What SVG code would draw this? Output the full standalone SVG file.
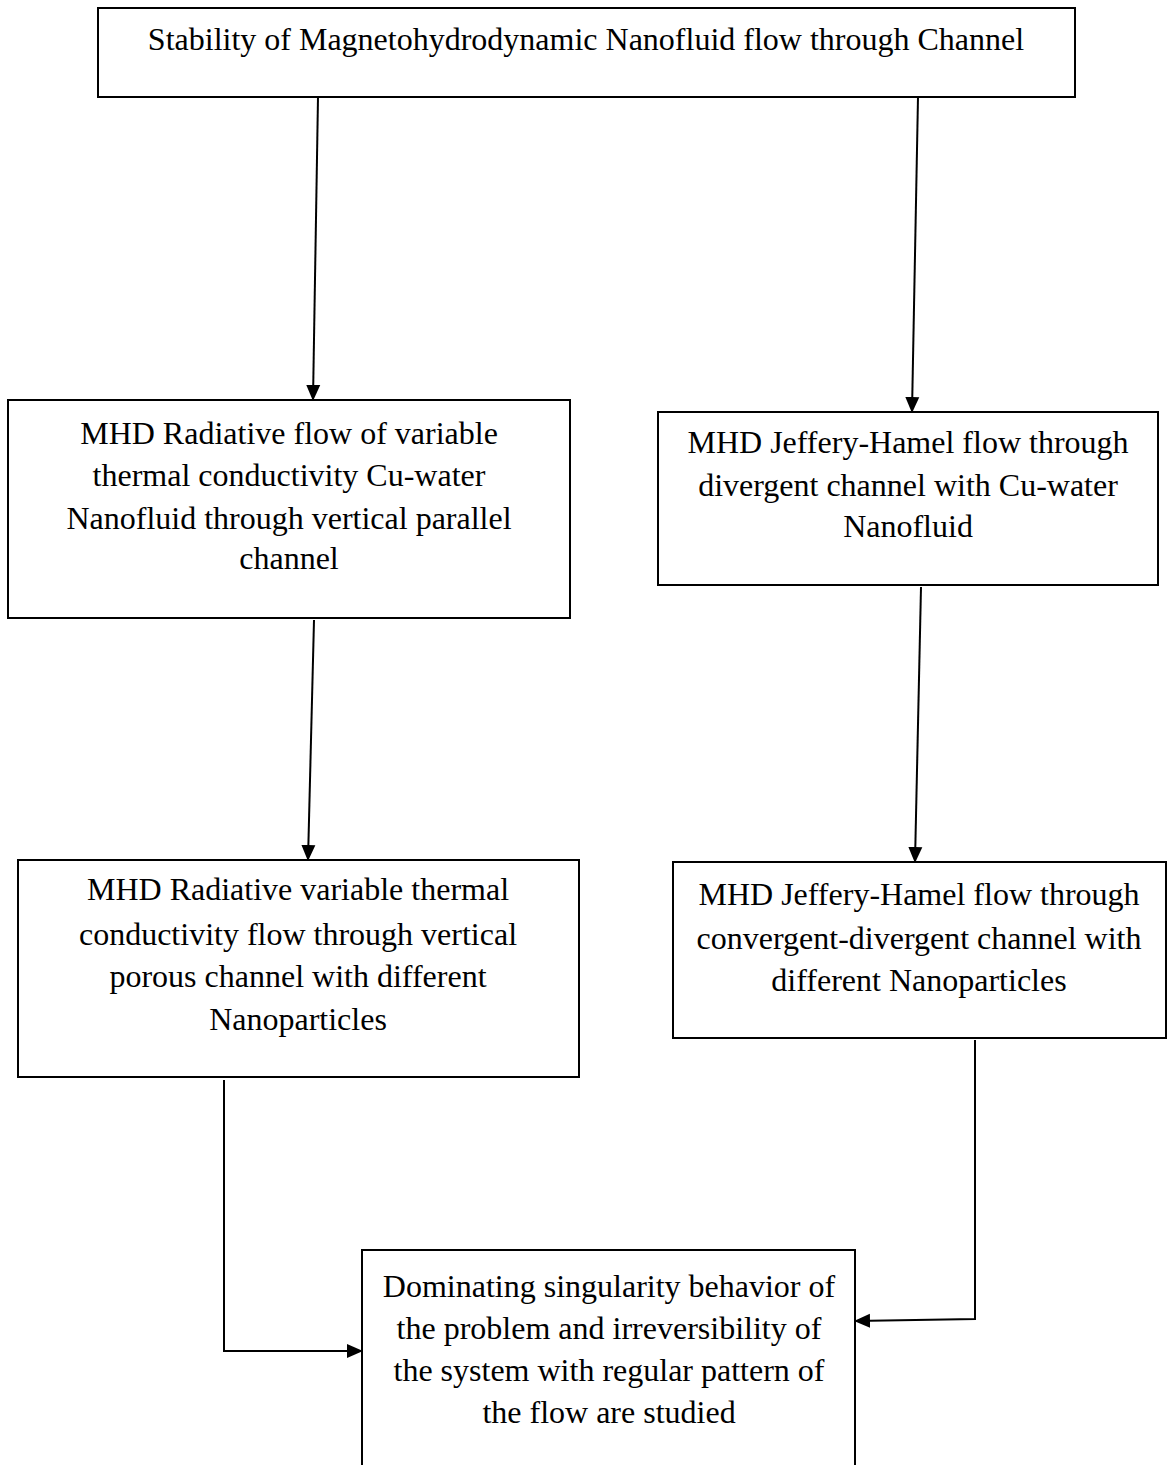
<svg xmlns="http://www.w3.org/2000/svg" width="1168" height="1465" viewBox="0 0 1168 1465">
<defs>
<style>
.box{fill:#fff;stroke:#000;stroke-width:2}
.t{font-family:"Liberation Serif","Times New Roman",serif;font-size:32px;fill:#000;text-anchor:middle}
.c{fill:none;stroke:#000;stroke-width:2}
</style>
<marker id="ah" markerWidth="16" markerHeight="16" refX="15" refY="8" orient="auto" markerUnits="userSpaceOnUse">
<path d="M0,1 L16,8 L0,15 Z" fill="#000"/>
</marker>
</defs>
<rect width="1168" height="1465" fill="#fff"/>
<g id="n1">
<rect class="box" x="98" y="8" width="977" height="89"/>
<text class="t" x="586" y="50">Stability of Magnetohydrodynamic Nanofluid flow through Channel</text>
</g>
<g id="n2">
<rect class="box" x="8" y="400" width="562" height="218"/>
<text class="t" x="289" y="444">MHD Radiative flow of variable</text>
<text class="t" x="289" y="486">thermal conductivity Cu-water</text>
<text class="t" x="289" y="529">Nanofluid through vertical parallel</text>
<text class="t" x="289" y="569">channel</text>
</g>
<g id="n3">
<rect class="box" x="658" y="412" width="500" height="173"/>
<text class="t" x="908" y="453">MHD Jeffery-Hamel flow through</text>
<text class="t" x="908" y="496">divergent channel with Cu-water</text>
<text class="t" x="908" y="537">Nanofluid</text>
</g>
<g id="n4">
<rect class="box" x="18" y="860" width="561" height="217"/>
<text class="t" x="298" y="900">MHD Radiative variable thermal</text>
<text class="t" x="298" y="945">conductivity flow through vertical</text>
<text class="t" x="298" y="987">porous channel with different</text>
<text class="t" x="298" y="1030">Nanoparticles</text>
</g>
<g id="n5">
<rect class="box" x="673" y="862" width="493" height="176"/>
<text class="t" x="919" y="905">MHD Jeffery-Hamel flow through</text>
<text class="t" x="919" y="949">convergent-divergent channel with</text>
<text class="t" x="919" y="991">different Nanoparticles</text>
</g>
<g id="n6">
<rect class="box" x="362" y="1250" width="493" height="230"/>
<text class="t" x="609" y="1297">Dominating singularity behavior of</text>
<text class="t" x="609" y="1339">the problem and irreversibility of</text>
<text class="t" x="609" y="1381">the system with regular pattern of</text>
<text class="t" x="609" y="1423">the flow are studied</text>
</g>
<g id="connectors">
<path class="c" d="M318,97 L313,400" marker-end="url(#ah)"/>
<path class="c" d="M918,97 L912,412" marker-end="url(#ah)"/>
<path class="c" d="M314,620 L308,860" marker-end="url(#ah)"/>
<path class="c" d="M921,587 L915,862" marker-end="url(#ah)"/>
<path class="c" d="M224,1080 L224,1351 L362,1351" marker-end="url(#ah)"/>
<path class="c" d="M975,1040 L975,1319 L855,1321" marker-end="url(#ah)"/>
</g>
</svg>
